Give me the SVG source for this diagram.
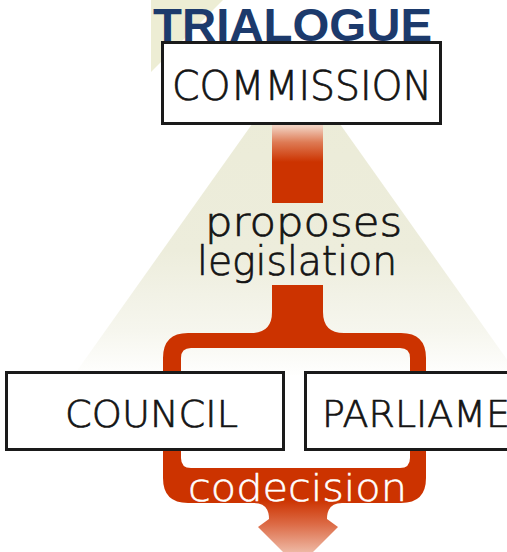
<svg xmlns="http://www.w3.org/2000/svg" width="507" height="552" viewBox="0 0 507 552">
  <defs>
    <linearGradient id="fanFill" gradientUnits="userSpaceOnUse" x1="0" y1="60" x2="0" y2="378">
      <stop offset="0" stop-color="#EBEBD6"/>
      <stop offset="0.6" stop-color="#EDEDDC"/>
      <stop offset="0.85" stop-color="#F6F6EE"/>
      <stop offset="1" stop-color="#FFFFFF"/>
    </linearGradient>
    <linearGradient id="feedIn" gradientUnits="userSpaceOnUse" x1="0" y1="126" x2="0" y2="162">
      <stop offset="0" stop-color="#F2D3C3"/>
      <stop offset="0.45" stop-color="#DE7B55"/>
      <stop offset="1" stop-color="#CC3300"/>
    </linearGradient>
    <linearGradient id="outFlow" gradientUnits="userSpaceOnUse" x1="0" y1="500" x2="0" y2="560">
      <stop offset="0" stop-color="#CC3300"/>
      <stop offset="0.4" stop-color="#DC6A45"/>
      <stop offset="1" stop-color="#F3CDBD"/>
    </linearGradient>
    <style>
      .box { fill: #FFFFFF; stroke: #1A1A1A; stroke-width: 3; }
      .name { font-family: "DejaVu Sans", "Liberation Sans", sans-serif; font-weight: 300; fill: #141414; stroke: #141414; stroke-width: 0.7; }
      .light { fill: #FFFFFF; stroke: #FFFFFF; stroke-width: 0.5; }
      .flow { fill: #CC3300; }
    </style>
  </defs>

  <!-- background wedges -->
  <g id="background">
    <polygon points="151,0 223,0 151,72" fill="#EDEDD4"/>
    <polygon points="296,62 74,375 518,375" fill="url(#fanFill)"/>
  </g>

  <!-- title -->
  <text id="title" x="153" y="41" font-family="Liberation Sans, Arial, sans-serif" font-weight="bold" font-size="47" fill="#1C3A6C" textLength="279" lengthAdjust="spacingAndGlyphs">TRIALOGUE</text>

  <!-- connectors: proposal feed, codecision loop and outgoing arrow -->
  <g id="connectors">
    <rect x="272" y="125" width="51" height="78" fill="url(#feedIn)"/>
    <path class="flow" fill-rule="evenodd" d="M272,285 H323 V312 Q323,333 344,333 H401 Q426,333 426,358 V478 Q426,503 401,503 H188 Q163,503 163,478 V358 Q163,333 188,333 H251 Q272,333 272,312 Z
      M191,348 H400 Q410,348 410,358 V458 Q410,468 400,468 H191 Q181,468 181,458 V358 Q181,348 191,348 Z"/>
    <path fill="url(#outFlow)" d="M250,499 H346 V503 H342 Q327,503 327,519 L338,527 L298,567 L258,527 L269,519 Q269,503 254,503 H250 Z"/>
  </g>

  <!-- nodes -->
  <g id="commission">
    <rect class="box" x="162.5" y="42.5" width="278" height="81"/>
    <text class="name" x="172" y="100" font-size="40" textLength="260" lengthAdjust="spacingAndGlyphs">COMMISSION</text>
  </g>
  <g id="council">
    <rect class="box" x="6.5" y="372.5" width="277" height="77"/>
    <text class="name" x="65" y="427" font-size="38" textLength="173" lengthAdjust="spacingAndGlyphs">COUNCIL</text>
  </g>
  <g id="parliament">
    <rect class="box" x="305.5" y="372.5" width="230" height="77"/>
    <text class="name" x="322" y="427" font-size="38">PARLIAMENT</text>
  </g>

  <!-- connector labels -->
  <g id="labels">
    <text class="name" x="205" y="236" font-size="40" textLength="197" lengthAdjust="spacingAndGlyphs">proposes</text>
    <text class="name" x="197" y="275" font-size="40" textLength="200" lengthAdjust="spacingAndGlyphs">legislation</text>
    <text class="name light" x="188" y="501" font-size="38" textLength="219" lengthAdjust="spacingAndGlyphs">codecision</text>
  </g>
</svg>
